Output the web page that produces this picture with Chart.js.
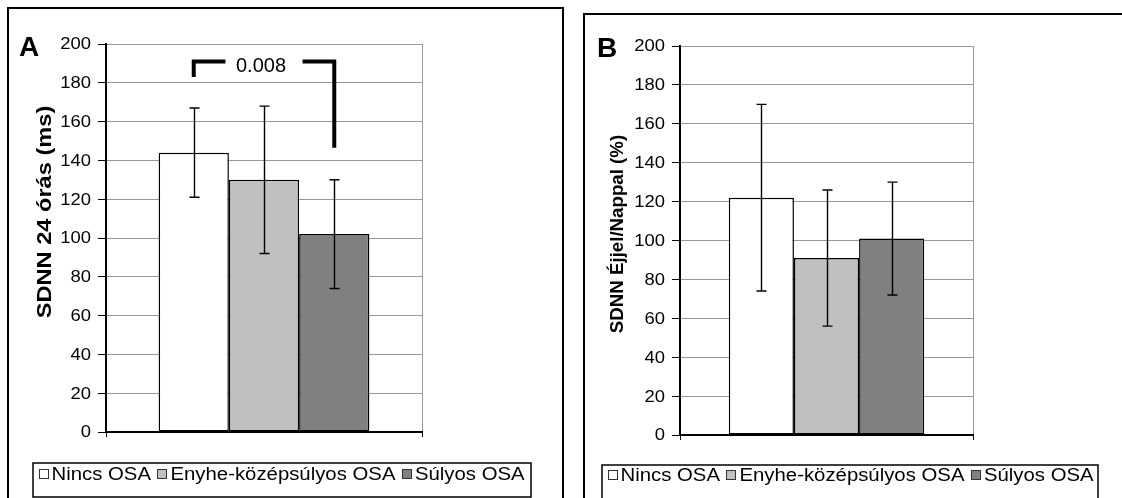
<!DOCTYPE html>
<html>
<head>
<meta charset="utf-8">
<script src="https://cdn.jsdelivr.net/npm/chart.js@4.4.1/dist/chart.umd.min.js"></script>
<style>
html,body{margin:0;padding:0;background:#fff;width:1122px;height:498px;overflow:hidden;position:relative}
.frame{position:absolute;border:2px solid #000;box-sizing:border-box}
canvas{position:absolute;left:0;top:0}
</style>
</head>
<body>
<div class="frame" style="left:7px;top:7px;width:557px;height:520px"></div>
<div class="frame" style="left:583px;top:13px;width:560px;height:520px"></div>
<canvas id="chartA" width="1122" height="498"></canvas>
<canvas id="chartB" width="1122" height="498"></canvas>
<script>
// ---------- data ----------
const categories = [''];
const seriesNames = ['Nincs OSA', 'Enyhe-középsúlyos OSA', 'Súlyos OSA'];
const seriesColors = ['#FFFFFF', '#C0C0C0', '#808080'];
const yTickValues = [0, 20, 40, 60, 80, 100, 120, 140, 160, 180, 200];

// Panel A: SDNN 24 órás (ms)
const sdnn24Mean = [144, 130, 102];
const sdnn24Upper = [167, 168, 130];
const sdnn24Lower = [121, 92, 74];

// Panel B: SDNN Éjjel/Nappal (%)
const sdnnRatioMean = [122, 91, 101];
const sdnnRatioUpper = [170, 126, 130];
const sdnnRatioLower = [74, 56, 72];

// significance annotation (panel A)
const pValueText = '0.008';
const bracketFromSeries = 0;
const bracketToSeries = 2;
const bracketTopValue = 191;
const bracketLeftEndValue = 183;
const bracketRightEndValue = 146.5;
const pValueBaselineValue = 185.6;

const FONT = "'Liberation Sans', Arial, Helvetica, sans-serif";
Chart.defaults.font.family = FONT;

// ---------- plugins ----------
function drawStretched(ctx, text, x, y, font, sx, align, baseline, rotate) {
  ctx.save();
  ctx.translate(x, y);
  if (rotate) ctx.rotate(rotate);
  ctx.scale(sx, 1);
  ctx.font = font;
  ctx.fillStyle = '#000';
  ctx.textAlign = align;
  ctx.textBaseline = baseline;
  ctx.fillText(text, 0, 0);
  ctx.restore();
}

const errorBarsPlugin = {
  id: 'errorBars',
  afterDatasetsDraw(chart) {
    const ctx = chart.ctx, ys = chart.scales.y;
    chart.data.datasets.forEach((ds, i) => {
      chart.getDatasetMeta(i).data.forEach((bar, j) => {
        const x = Math.round(bar.x) + 0.5;
        const yh = ys.getPixelForValue(ds.errUpper[j]);
        const yl = ys.getPixelForValue(ds.errLower[j]);
        ctx.save();
        ctx.strokeStyle = '#000';
        ctx.lineWidth = 1.4;
        ctx.beginPath();
        ctx.moveTo(x, yh); ctx.lineTo(x, yl);
        ctx.moveTo(x - 5, yh); ctx.lineTo(x + 5, yh);
        ctx.moveTo(x - 5, yl); ctx.lineTo(x + 5, yl);
        ctx.stroke();
        ctx.restore();
      });
    });
  }
};

const decorPlugin = {
  id: 'decor',
  afterDraw(chart, args, o) {
    const ctx = chart.ctx, ys = chart.scales.y;
    // y tick labels from the scale ticks
    ys.ticks.forEach(t => {
      const py = ys.getPixelForValue(t.value);
      drawStretched(ctx, String(t.value), ys.right - o.tickLabelGap, py + 1,
        o.tickFont + 'px ' + FONT, o.tickStretch, 'right', 'middle', 0);
    });
    // y axis title
    drawStretched(ctx, o.yTitle, o.titleX, o.titleY, 'bold ' + o.titleSize + 'px ' + FONT,
      o.titleStretch, 'center', 'alphabetic', -Math.PI / 2);
    // panel letter
    drawStretched(ctx, o.letter, o.letterX, o.letterY, 'bold 28px ' + FONT, 1, 'left', 'alphabetic', 0);
    // legend
    const L = o.legend;
    ctx.save();
    ctx.strokeStyle = '#000';
    ctx.lineWidth = 1.5;
    ctx.strokeRect(L.left, L.top, L.right - L.left, L.bottom - L.top);
    ctx.restore();
    let x = L.left + 5.5;
    const fsize = 18, sx = 1.13;
    chart.data.datasets.forEach(ds => {
      ctx.save();
      ctx.fillStyle = ds.backgroundColor;
      ctx.fillRect(x, L.base - 11, 9, 9);
      ctx.strokeStyle = '#333';
      ctx.lineWidth = 1;
      ctx.strokeRect(Math.round(x) + 0.5, Math.round(L.base - 11) + 0.5, 9, 9);
      ctx.restore();
      const tx = x + 13;
      drawStretched(ctx, ds.label, tx, L.base, fsize + 'px ' + FONT, sx, 'left', 'alphabetic', 0);
      ctx.font = fsize + 'px ' + FONT;
      const w = ctx.measureText(ds.label).width * sx;
      x = tx + w + 6.5;
    });
    // significance bracket
    if (o.bracket) {
      const m0 = chart.getDatasetMeta(bracketFromSeries).data[0];
      const m2 = chart.getDatasetMeta(bracketToSeries).data[0];
      const x0 = m0.x, x2 = m2.x;
      const yTop = ys.getPixelForValue(bracketTopValue);
      const yL = ys.getPixelForValue(bracketLeftEndValue);
      const yR = ys.getPixelForValue(bracketRightEndValue);
      ctx.save();
      ctx.font = '20px ' + FONT;
      const tw = ctx.measureText(pValueText).width;
      const tc = (x0 + x2) / 2 - 3;
      ctx.fillStyle = '#000';
      ctx.textAlign = 'center';
      ctx.textBaseline = 'alphabetic';
      ctx.fillText(pValueText, tc, ys.getPixelForValue(pValueBaselineValue));
      ctx.strokeStyle = '#000';
      ctx.lineWidth = 4;
      ctx.lineJoin = 'miter';
      ctx.lineCap = 'butt';
      ctx.beginPath();
      ctx.moveTo(x0, yL); ctx.lineTo(x0, yTop); ctx.lineTo(tc - tw / 2 - 10.5, yTop);
      ctx.moveTo(tc + tw / 2 + 16.5, yTop); ctx.lineTo(x2, yTop); ctx.lineTo(x2, yR);
      ctx.stroke();
      ctx.restore();
    }
  }
};

function makeChart(id, mean, upper, lower, cfg) {
  const datasets = seriesNames.map((name, i) => ({
    label: name,
    data: [mean[i]],
    errUpper: [upper[i]],
    errLower: [lower[i]],
    backgroundColor: seriesColors[i],
    borderColor: '#000',
    borderWidth: 1.5,
    borderSkipped: false,
    categoryPercentage: 0.667,
    barPercentage: 1.0
  }));
  return new Chart(document.getElementById(id), {
    type: 'bar',
    data: { labels: categories, datasets },
    options: {
      responsive: false,
      animation: false,
      devicePixelRatio: 1,
      layout: { padding: { left: cfg.frameLeft, top: cfg.plot.top, right: 1122 - cfg.plot.right, bottom: 498 - cfg.plot.bottom - 6 } },
      plugins: {
        legend: { display: false },
        tooltip: { enabled: false },
        decor: cfg.decor
      },
      scales: {
        x: {
          offset: true,
          ticks: { display: false },
          grid: {
            offset: true,
            color: c => c.index === 0 ? 'rgba(0,0,0,0)' : '#999999',
            lineWidth: 1,
            tickLength: 5,
            tickColor: '#000'
          },
          border: { display: true, color: '#000', width: 2 },
          afterFit: s => { s.height = 6; }
        },
        y: {
          min: 0, max: 200,
          afterBuildTicks: s => { s.ticks = yTickValues.map(v => ({ value: v })); },
          ticks: { display: false },
          grid: { color: '#999999', lineWidth: 1, tickLength: 8, tickColor: '#000' },
          border: { display: true, color: '#000', width: 2 },
          afterFit: s => { s.width = cfg.plot.left - cfg.frameLeft; }
        }
      }
    },
    plugins: [errorBarsPlugin, decorPlugin]
  });
}

makeChart('chartA', sdnn24Mean, sdnn24Upper, sdnn24Lower, {
  frameLeft: 8,
  plot: { left: 106, top: 44, right: 422, bottom: 432 },
  decor: {
    tickLabelGap: 15, tickFont: 16, tickStretch: 1.15,
    yTitle: 'SDNN 24 órás (ms)', titleX: 51, titleY: 212, titleSize: 20, titleStretch: 1.18,
    letter: 'A', letterX: 19, letterY: 56,
    legend: { left: 33, top: 463, right: 531, bottom: 497, base: 480 },
    bracket: true
  }
});

makeChart('chartB', sdnnRatioMean, sdnnRatioUpper, sdnnRatioLower, {
  frameLeft: 585,
  plot: { left: 680, top: 46, right: 973, bottom: 435 },
  decor: {
    tickLabelGap: 15, tickFont: 16, tickStretch: 1.15,
    yTitle: 'SDNN Éjjel/Nappal (%)', titleX: 623, titleY: 234, titleSize: 18.7, titleStretch: 1.0,
    letter: 'B', letterX: 597, letterY: 57,
    legend: { left: 602, top: 465, right: 1098, bottom: 499, base: 481 },
    bracket: false
  }
});
</script>
</body>
</html>
